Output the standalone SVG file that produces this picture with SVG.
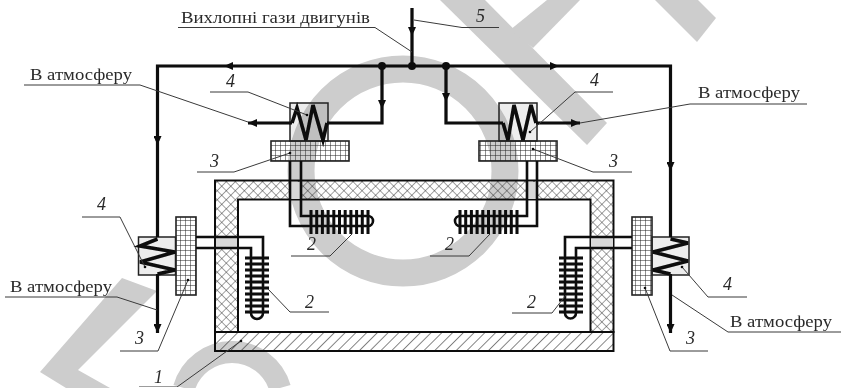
<svg xmlns="http://www.w3.org/2000/svg" width="845" height="388" viewBox="0 0 845 388">
<style>
.t{font-family:"Liberation Serif","Times New Roman",serif;font-size:17.500px;fill:#2a2a2a}
.n{font-family:"Liberation Serif","Times New Roman",serif;font-size:18px;font-style:italic;fill:#2a2a2a}
.lead{fill:none;stroke:#3a3a3a;stroke-width:1}
.pipe{fill:none;stroke:#0a0a0a;stroke-width:3.200;stroke-linejoin:miter}
.coil{fill:none;stroke:#0a0a0a;stroke-width:3.600;stroke-linejoin:miter}
.thin{fill:none;stroke:#111;stroke-width:2.600}
.fin{stroke:#0a0a0a;stroke-width:3}
.box{fill:#000;fill-opacity:.07;stroke:#222;stroke-width:1.500}
.panel{fill:url(#grid);stroke:#222;stroke-width:1.600}
.dot{fill:#111}
.wm{fill:#cdcdcd}
.gap{fill:#d8d8d8}
</style>
<defs>
<pattern id="grid" width="5" height="5" patternUnits="userSpaceOnUse"><path d="M0 0H5M0 0V5" fill="none" stroke="#222" stroke-width="1"/></pattern>
<pattern id="cross" width="6.400" height="6.400" patternUnits="userSpaceOnUse" patternTransform="rotate(45)"><path d="M0 0H6.400M0 0V6.400" fill="none" stroke="#333" stroke-width="0.900"/></pattern>
<pattern id="hatch" width="7.600" height="7.600" patternUnits="userSpaceOnUse" patternTransform="rotate(45)"><path d="M0 0V7.600" fill="none" stroke="#222" stroke-width="1.100"/></pattern>
<marker id="ah" markerWidth="10" markerHeight="8" refX="9" refY="4" orient="auto" markerUnits="userSpaceOnUse"><path d="M0 0L9 4L0 8Z" fill="#0a0a0a"/></marker>
<marker id="mid" markerWidth="9" markerHeight="8" refX="5" refY="4" orient="auto" markerUnits="userSpaceOnUse"><path d="M0 0L9 4L0 8Z" fill="#0a0a0a"/></marker>
<filter id="soft" x="0" y="0" width="1" height="1"><feGaussianBlur stdDeviation="0.35"/></filter>
<g id="finsV"><path class="fin" d="M-12 0H12M-12 6H12M-12 12H12M-12 18H12M-12 24H12M-12 30H12M-12 36H12M-12 42H12M-12 48H12M-12 54H12"/></g>
<g id="finsH"><path class="fin" d="M0 -12V12M5.700 -12V12M11.400 -12V12M17.100 -12V12M22.800 -12V12M28.500 -12V12M34.200 -12V12M39.900 -12V12M45.600 -12V12M51.300 -12V12M57 -12V12"/></g>
</defs>
<rect width="845" height="388" fill="#fff"/>
<g id="watermark">
<path class="wm" d="M40 372L66 388H110L78 370L157 291L122 278Z"/>
<path class="wm" d="M440 0L587 145L607 123L485 0Z"/>
<path class="wm" d="M547 0H580L533 48L510 30Z"/>
<path class="wm" d="M655 0L697 42L716 18L698 0Z"/>
<circle cx="403" cy="171" r="102" fill="none" stroke="#cdcdcd" stroke-width="27"/>
<path d="M184 388A50 50 0 0 1 280 388" fill="none" stroke="#cdcdcd" stroke-width="22"/>
</g>
<g filter="url(#soft)">
<g id="node-chamber">
<path d="M215 332V180.500H613.500V332H590.500V199.500H238V332Z" fill="url(#cross)" stroke="#111" stroke-width="2"/>
<rect x="215" y="332" width="398.500" height="19" fill="url(#hatch)" stroke="#111" stroke-width="2"/>
<rect class="gap" x="216" y="238" width="21" height="9"/>
<rect class="gap" x="591" y="238" width="22" height="9"/>
<rect class="gap" x="291" y="182" width="9" height="17"/>
<rect class="gap" x="528" y="182" width="8" height="17"/>
</g>
<g id="node-hx-top-left">
<rect class="box" x="290" y="103" width="38" height="38"/>
<rect class="panel" x="271" y="141" width="78" height="20"/>
<path class="coil" d="M292 123L297 108L306 140L313 105L323 140L327 123"/>
</g>
<g id="node-hx-top-right">
<rect class="box" x="499" y="103" width="38" height="38"/>
<rect class="panel" x="479" y="141" width="78" height="20"/>
<path class="coil" d="M503 123L508 140L514 105L523 140L531 105L536 123"/>
</g>
<g id="node-hx-left">
<rect class="box" x="138.500" y="237" width="37" height="38"/>
<rect class="panel" x="176" y="217" width="20" height="78"/>
<path class="coil" d="M157.500 239L140 246L175 252L140 262L175 270L157.500 274"/>
</g>
<g id="node-hx-right">
<rect class="box" x="652" y="237" width="37" height="38"/>
<rect class="panel" x="632" y="217" width="20" height="78"/>
<path class="coil" d="M670.500 239L688 243L653 252L688 261L653 270L670.500 274"/>
</g>
<g id="node-radiator-top-left">
<path class="thin" d="M290 161V226H368A5 5 0 0 0 368 216H301V161"/>
<use href="#finsH" x="311" y="222"/>
</g>
<g id="node-radiator-top-right">
<path class="thin" d="M537 161V226H460A5 5 0 0 1 460 216H527V161"/>
<use href="#finsH" x="460" y="222"/>
</g>
<g id="node-radiator-left">
<path class="thin" d="M196 237H263V313A6 6 0 0 1 251 313V248H196"/>
<use href="#finsV" x="257" y="258"/>
</g>
<g id="node-radiator-right">
<path class="thin" d="M632 237H565V313A5.500 5.500 0 0 0 576 313V248H632"/>
<use href="#finsV" x="571" y="258"/>
</g>
<g id="connectors">
<path class="pipe" d="M412 8V66"/>
<path class="pipe" d="M412 30V32" marker-end="url(#mid)"/>
<path class="pipe" d="M157.500 237V66H670.500V237"/>
<path class="pipe" d="M230 66H228" marker-end="url(#mid)"/>
<path class="pipe" d="M553 66H555" marker-end="url(#mid)"/>
<path class="pipe" d="M157.500 139V141" marker-end="url(#mid)"/>
<path class="pipe" d="M670.500 165V167" marker-end="url(#mid)"/>
<path class="pipe" d="M382 66V123H327"/>
<path class="pipe" d="M382 103V105" marker-end="url(#mid)"/>
<path class="pipe" d="M292 123H248" marker-end="url(#ah)"/>
<path class="pipe" d="M446 66V123H503"/>
<path class="pipe" d="M446 96V98" marker-end="url(#mid)"/>
<path class="pipe" d="M536 123H580" marker-end="url(#ah)"/>
<path class="pipe" d="M157.500 274V333" marker-end="url(#ah)"/>
<path class="pipe" d="M670.500 274V333" marker-end="url(#ah)"/>
<circle class="dot" cx="382" cy="66" r="4"/>
<circle class="dot" cx="412" cy="66" r="4"/>
<circle class="dot" cx="446" cy="66" r="4"/>
</g>
<g id="leaders">
<path class="lead" d="M178 27.500H375L412 52"/>
<path class="lead" d="M414 20L462 27.500H499"/>
<path class="lead" d="M24 85H140L248 122"/>
<path class="lead" d="M210 92H248L307 115"/>
<path class="lead" d="M197 172H234L290 153"/>
<path class="lead" d="M613 92H575L530 132"/>
<path class="lead" d="M807 104H690L580 123"/>
<path class="lead" d="M632 172H593L533 149"/>
<path class="lead" d="M82 217H120L145 267"/>
<path class="lead" d="M5 297H117L157 310"/>
<path class="lead" d="M120 351H158L188 280"/>
<path class="lead" d="M291 256H330L352 234"/>
<path class="lead" d="M430 256H469L490 234"/>
<path class="lead" d="M329 312H290L268 289"/>
<path class="lead" d="M512 313H552L566 295"/>
<path class="lead" d="M747 297H708L682 267"/>
<path class="lead" d="M841 332H728L672 295"/>
<path class="lead" d="M708 351H670L645 288"/>
<path class="lead" d="M139 387H177L241 341"/>
<circle class="dot" cx="307" cy="115" r="1.300"/><circle class="dot" cx="530" cy="132" r="1.300"/>
<circle class="dot" cx="533" cy="149" r="1.300"/><circle class="dot" cx="290" cy="153" r="1.300"/>
<circle class="dot" cx="145" cy="267" r="1.300"/><circle class="dot" cx="188" cy="280" r="1.300"/>
<circle class="dot" cx="682" cy="267" r="1.300"/><circle class="dot" cx="645" cy="288" r="1.300"/>
<circle class="dot" cx="241" cy="341" r="1.300"/>
</g>
<g id="labels">
<text class="t" x="181" y="23" textLength="189" lengthAdjust="spacingAndGlyphs">Вихлопні гази двигунів</text>
<text class="t" x="30" y="80" textLength="102" lengthAdjust="spacingAndGlyphs">В атмосферу</text>
<text class="t" x="698" y="98" textLength="102" lengthAdjust="spacingAndGlyphs">В атмосферу</text>
<text class="t" x="10" y="292" textLength="102" lengthAdjust="spacingAndGlyphs">В атмосферу</text>
<text class="t" x="730" y="327" textLength="102" lengthAdjust="spacingAndGlyphs">В атмосферу</text>
<text class="n" x="476" y="22">5</text>
<text class="n" x="226" y="87">4</text>
<text class="n" x="590" y="86">4</text>
<text class="n" x="97" y="210">4</text>
<text class="n" x="723" y="290">4</text>
<text class="n" x="210" y="167">3</text>
<text class="n" x="609" y="167">3</text>
<text class="n" x="135" y="344">3</text>
<text class="n" x="686" y="344">3</text>
<text class="n" x="307" y="250">2</text>
<text class="n" x="445" y="250">2</text>
<text class="n" x="305" y="308">2</text>
<text class="n" x="527" y="308">2</text>
<text class="n" x="154" y="383">1</text>
</g>
</g>
</svg>
